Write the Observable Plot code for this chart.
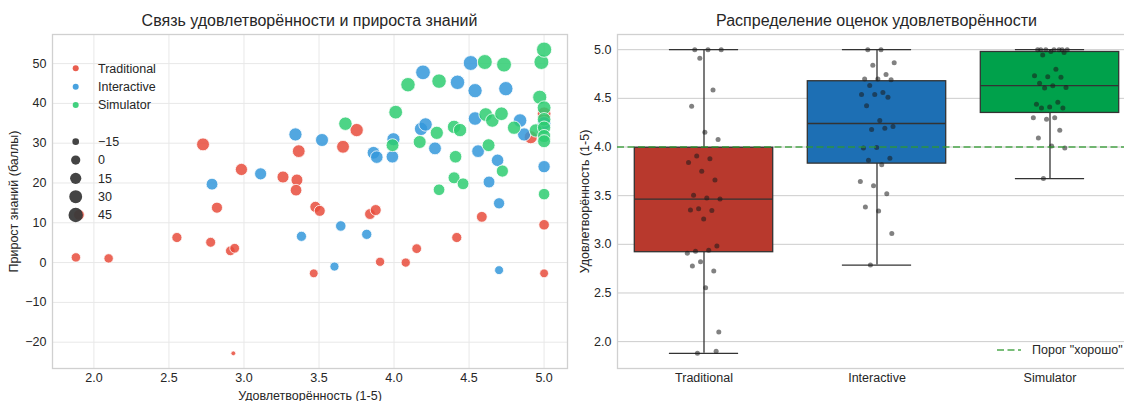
<!DOCTYPE html>
<html><head><meta charset="utf-8">
<script src="https://cdn.jsdelivr.net/npm/d3@7"></script>
<script src="https://cdn.jsdelivr.net/npm/@observablehq/plot@0.6"></script>
<style>
body{margin:0;overflow:hidden;background:#fff;font-family:"Liberation Sans",Arial,sans-serif;color:#262626}
#wrap{position:relative;width:1124px;height:401px;overflow:hidden}
.panel{position:absolute;top:0;height:401px}
.title{height:30px;font-size:16px;text-align:center;line-height:18px;box-sizing:border-box;padding-top:12px;white-space:nowrap}
.panel svg{display:block}
.overlay{position:absolute;left:0;top:0;pointer-events:none}
</style></head><body>
<div id="wrap">
  <div class="panel" id="left" style="left:0;width:580px"><div class="title" style="padding-left:52px;padding-right:13px">Связь удовлетворённости и прироста знаний</div></div>
  <div class="panel" id="right" style="left:580px;width:570px"><div class="title" style="padding-left:37px;padding-right:14px">Распределение оценок удовлетворённости</div></div>
</div>
<script>
// ---------- data ----------
const groups = ["Traditional", "Interactive", "Simulator"];

const traditionalSatisfaction = [1.88, 2.098, 2.553, 2.778, 2.727, 2.82, 2.909, 2.938, 2.929, 2.983, 3.26, 3.353, 3.347, 3.365, 3.465, 3.476, 3.505, 3.66, 3.751, 3.84, 3.878, 3.907, 4.078, 4.151, 4.418, 4.585, 4.911, 5.0, 5.0, 5.0, 1.90];
const traditionalGain         = [1.3, 1.05, 6.3, 5.1, 29.7, 13.8, 2.95, 3.6, -22.8, 23.4, 21.5, 20.75, 18.2, 28.0, -2.7, 14.0, 13.0, 29.1, 33.3, 12.2, 13.2, 0.2, 0.0, 3.5, 6.3, 11.5, 31.5, 37.4, 9.5, -2.7, 12.0];

const interactiveSatisfaction = [2.787, 3.111, 3.343, 3.383, 3.52, 3.603, 3.645, 3.818, 3.863, 3.885, 3.996, 3.989, 4.193, 4.18, 4.21, 4.273, 4.423, 4.511, 4.54, 4.54, 4.56, 4.633, 4.69, 4.70, 4.70, 4.745, 4.84, 4.867, 5.0, 5.0];
const interactiveGain         = [19.7, 22.3, 32.2, 6.6, 30.8, -1.0, 9.2, 7.1, 27.6, 26.5, 31.0, 26.6, 47.8, 33.6, 34.7, 28.7, 45.3, 50.15, 43.2, 36.2, 28.0, 20.25, 25.7, 14.9, -1.9, 43.7, 35.7, 32.2, 24.1, 35.0];

const simulatorSatisfaction = [3.676, 3.99, 4.011, 4.093, 4.171, 4.285, 4.30, 4.30, 4.40, 4.40, 4.41, 4.44, 4.46, 4.605, 4.611, 4.63, 4.655, 4.716, 4.722, 4.733, 4.80, 4.945, 4.971, 4.982, 5.0, 5.0, 5.0, 5.0, 5.0, 5.0, 5.0];
const simulatorGain         = [34.9, 29.5, 37.8, 44.7, 30.3, 32.6, 45.6, 18.3, 21.3, 34.1, 26.6, 33.3, 19.8, 50.4, 37.2, 29.5, 35.7, 37.4, 23.0, 49.75, 33.9, 33.2, 41.55, 50.4, 53.5, 38.9, 36.0, 33.9, 31.8, 30.5, 17.2];

const sizeLegendValues = [-15, 0, 15, 30, 45];
const goodThreshold = 4.0;
const scatterXTicks = [2.0, 2.5, 3.0, 3.5, 4.0, 4.5, 5.0];
const scatterYTicks = [-20, -10, 0, 10, 20, 30, 40, 50];
const boxYTicks = [2.0, 2.5, 3.0, 3.5, 4.0, 4.5, 5.0];

// ---------- styles ----------
const pointColors = ["#e74c3c", "#3498db", "#2ecc71"];
const boxColors = ["#b8392d", "#1d6fb4", "#00a14b"];
const FONT = '"Liberation Sans", Arial, sans-serif';
const TXT = "#262626";

const satisfaction = [traditionalSatisfaction, interactiveSatisfaction, simulatorSatisfaction];
const gain = [traditionalGain, interactiveGain, simulatorGain];

const rows = [];
groups.forEach((g, gi) => satisfaction[gi].forEach((s, j) => rows.push({group: g, gi, j, sat: s, gain: gain[gi][j]})));

function padded(ext) { const m = (ext[1] - ext[0]) * 0.05; return [ext[0] - m, ext[1] + m]; }
const minus = d => d < 0 ? "\u2212" + Math.abs(d) : String(d);

const gmin = d3.min(rows, d => d.gain), gmax = d3.max(rows, d => d.gain);
const g0 = gmin - (gmax - gmin) * 20 / 180;   // area linear in gain (sizes 20..200)
const rMax = 7.6;

// ---------- left: scatter ----------
const leftPlot = Plot.plot({
  width: 580, height: 371,
  marginLeft: 52, marginRight: 13, marginTop: 4, marginBottom: 33,
  style: {fontFamily: FONT, fontSize: "12.5px", color: TXT, background: "transparent", overflow: "visible"},
  x: {domain: padded(d3.extent(rows, d => d.sat)), ticks: scatterXTicks, tickFormat: ".1f", tickSize: 0, tickPadding: 5,
      label: "Удовлетворённость (1-5)", labelAnchor: "center", labelArrow: "none", labelOffset: 31},
  y: {domain: padded([gmin, gmax]), ticks: scatterYTicks, tickFormat: minus, tickSize: 0, tickPadding: 6,
      label: "Прирост знаний (баллы)", labelAnchor: "center", labelArrow: "none", labelOffset: 43},
  r: {type: "sqrt", domain: [0, gmax - g0], range: [0, rMax]},
  color: {domain: groups, range: pointColors},
  marks: [
    Plot.gridX(scatterXTicks, {stroke: "#e8e8e8", strokeOpacity: 1}),
    Plot.gridY(scatterYTicks, {stroke: "#e8e8e8", strokeOpacity: 1}),
    Plot.frame({stroke: "#d0d0d0", strokeWidth: 1.3}),
    Plot.dot(rows, {x: "sat", y: "gain", r: d => d.gain - g0, fill: "group", fillOpacity: 0.85,
                    stroke: "white", strokeWidth: 0.8, sort: null})
  ]
});
document.getElementById("left").appendChild(leftPlot);

// legend overlay (left)
const rScale = leftPlot.scale("r");
const ns = "http://www.w3.org/2000/svg";
const lg = document.createElementNS(ns, "svg");
lg.setAttribute("class", "overlay"); lg.setAttribute("width", 580); lg.setAttribute("height", 401);
lg.style.fontFamily = FONT; lg.style.fontSize = "12.5px";
function addEntry(cy, r, fill, op, label) {
  const c = document.createElementNS(ns, "circle");
  c.setAttribute("cx", 75.7); c.setAttribute("cy", cy); c.setAttribute("r", r);
  c.setAttribute("fill", fill); c.setAttribute("fill-opacity", op);
  lg.appendChild(c);
  const t = document.createElementNS(ns, "text");
  t.setAttribute("x", 98); t.setAttribute("y", cy); t.setAttribute("dy", "0.35em");
  t.setAttribute("fill", TXT); t.textContent = label;
  lg.appendChild(t);
}
groups.forEach((g, i) => addEntry(68.3 + i * 18.35, 3, pointColors[i], 0.9, g));
sizeLegendValues.forEach((v, i) => addEntry(141.7 + i * 18.33, rScale.apply(v - g0), "#3a3a3a", 0.95, minus(v)));
document.getElementById("left").appendChild(lg);

// ---------- right: box + strip ----------
const stats = groups.map((g, i) => {
  const v = d3.sort(satisfaction[i]);
  const q1 = d3.quantileSorted(v, 0.25), q2 = d3.quantileSorted(v, 0.5), q3 = d3.quantileSorted(v, 0.75);
  const iqr = q3 - q1;
  const lo = d3.min(v.filter(x => x >= q1 - 1.5 * iqr));
  const hi = d3.max(v.filter(x => x <= q3 + 1.5 * iqr));
  return {i, g, q1, q2, q3, lo, hi};
});
const jitter = j => (((j * 0.618034 + 0.31) % 1) - 0.5) * 0.2;
const allSat = rows.map(d => d.sat);

const rightPlot = Plot.plot({
  width: 570, height: 371,
  marginLeft: 37, marginRight: 14, marginTop: 4, marginBottom: 33,
  style: {fontFamily: FONT, fontSize: "12.5px", color: TXT, background: "transparent", overflow: "visible"},
  x: {domain: [-0.5, 2.5], ticks: [0, 1, 2], tickFormat: i => groups[i], tickSize: 0, tickPadding: 5, label: null},
  y: {domain: padded(d3.extent(allSat)), ticks: boxYTicks, tickFormat: ".1f", tickSize: 0, tickPadding: 6,
      label: "Удовлетворённость (1-5)", labelAnchor: "center", labelArrow: "none", labelOffset: 37},
  marks: [
    Plot.gridY(boxYTicks, {stroke: "#cccccc", strokeOpacity: 1}),
    Plot.frame({stroke: "#d0d0d0", strokeWidth: 1.3}),
    Plot.ruleX(stats, {x: "i", y1: "lo", y2: "hi", stroke: "#333", strokeWidth: 1.3}),
    Plot.ruleY(stats, {y: "lo", x1: d => d.i - 0.2, x2: d => d.i + 0.2, stroke: "#333", strokeWidth: 1.3}),
    Plot.ruleY(stats, {y: "hi", x1: d => d.i - 0.2, x2: d => d.i + 0.2, stroke: "#333", strokeWidth: 1.3}),
    Plot.rect(stats, {x1: d => d.i - 0.4, x2: d => d.i + 0.4, y1: "q1", y2: "q3", fill: (d) => boxColors[d.i], stroke: "#333", strokeWidth: 1.3}),
    Plot.ruleY(stats, {y: "q2", x1: d => d.i - 0.4, x2: d => d.i + 0.4, stroke: "#333", strokeWidth: 1.3}),
    Plot.dot(rows, {x: d => d.gi + jitter(d.j), y: "sat", r: 2.5, fill: "#1a1a1a", fillOpacity: 0.55, stroke: "none"}),
    Plot.ruleY([goodThreshold], {stroke: "#2e9a2e", strokeOpacity: 0.85, strokeWidth: 1.7, strokeDasharray: "7,3.5"})
  ]
});
document.getElementById("right").appendChild(rightPlot);

const rl = document.createElement("div");
rl.style.cssText = "position:absolute;left:416px;top:342px;display:flex;align-items:center;font-size:12.5px;white-space:nowrap;color:" + TXT;
rl.innerHTML = '<svg width="26" height="16" style="margin-right:10px"><line x1="1" y1="8" x2="25" y2="8" stroke="#2e9a2e" stroke-opacity="0.85" stroke-width="1.7" stroke-dasharray="7,3.5"/></svg><span>Порог "хорошо"</span>';
document.getElementById("right").appendChild(rl);
</script>
</body></html>
